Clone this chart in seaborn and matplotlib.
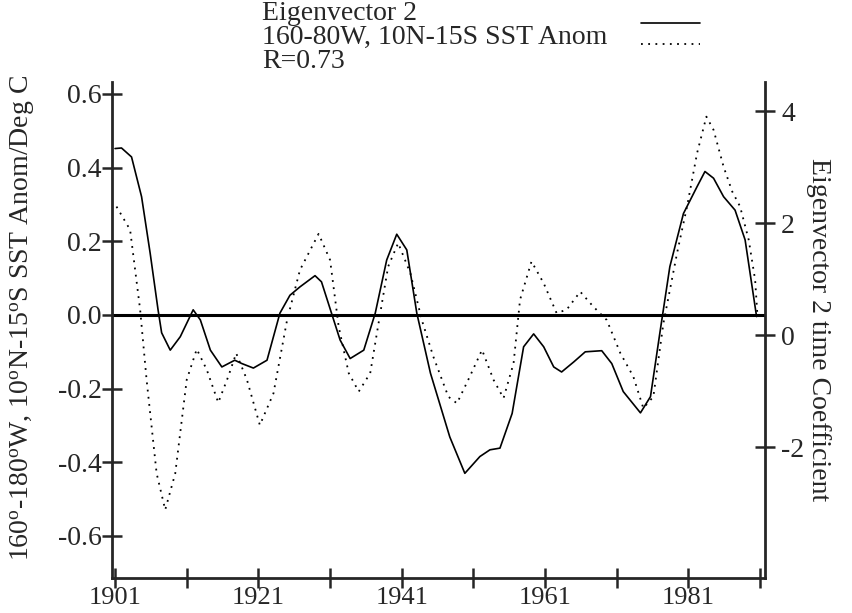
import matplotlib
matplotlib.use("Agg")
import matplotlib.pyplot as plt
from matplotlib.lines import Line2D
import seaborn as sns
import pandas as pd

# Eigenvector 2 time coefficient (right axis)
eof_years = [1901.0, 1901.9, 1903.3, 1904.7, 1905.9, 1907.0, 1907.5, 1908.7, 1910.1, 1911.9,
             1912.9, 1914.3, 1915.9, 1917.7, 1918.7, 1920.3, 1922.2, 1924.0, 1925.4, 1926.8,
             1928.9, 1929.8, 1931.2, 1932.4, 1933.8, 1935.7, 1937.3, 1938.9, 1940.3, 1941.7,
             1943.1, 1945.0, 1947.7, 1949.8, 1951.9, 1953.3, 1954.7, 1956.4, 1958.0, 1959.4,
             1960.8, 1962.2, 1963.3, 1965.0, 1966.6, 1968.9, 1970.3, 1971.9, 1974.3, 1975.7,
             1977.0, 1978.4, 1980.3, 1982.2, 1983.3, 1984.5, 1985.9, 1987.5, 1988.9, 1990.5]
eof_coef = [3.33, 3.34, 3.18, 2.47, 1.46, 0.45, 0.04, -0.27, -0.03, 0.45,
            0.27, -0.27, -0.57, -0.45, -0.51, -0.59, -0.45, 0.39, 0.71, 0.86,
            1.06, 0.95, 0.39, -0.09, -0.42, -0.27, 0.39, 1.34, 1.80, 1.52,
            0.39, -0.68, -1.82, -2.47, -2.17, -2.05, -2.02, -1.40, -0.21, 0.02,
            -0.21, -0.57, -0.66, -0.48, -0.30, -0.28, -0.51, -1.01, -1.39, -1.10,
            0.03, 1.22, 2.17, 2.65, 2.92, 2.80, 2.47, 2.23, 1.70, 0.33]

# 160-80W, 10N-15S SST anomaly (left axis, deg C)
sst_years = [1901.2, 1903.1, 1904.5, 1905.4, 1906.8, 1908.0, 1909.4, 1911.0, 1912.4, 1913.8,
             1915.4, 1916.8, 1917.9, 1919.4, 1921.2, 1923.1, 1925.0, 1926.8, 1929.4, 1931.0,
             1932.2, 1933.6, 1935.0, 1936.6, 1938.0, 1939.1, 1940.5, 1942.2, 1943.8, 1945.4,
             1947.5, 1948.7, 1950.5, 1952.2, 1953.8, 1955.2, 1956.6, 1957.5, 1959.1, 1960.8,
             1962.6, 1964.0, 1965.9, 1967.7, 1969.6, 1971.5, 1973.3, 1974.7, 1976.1, 1977.5,
             1979.4, 1980.8, 1982.2, 1983.5, 1984.5, 1985.9, 1987.1, 1988.2, 1989.4, 1990.3,
             1990.6]
sst_anom = [0.294, 0.231, 0.014, -0.176, -0.430, -0.529, -0.430, -0.176, -0.093, -0.149,
            -0.238, -0.167, -0.104, -0.176, -0.299, -0.213, -0.014, 0.122, 0.220, 0.149,
            -0.032, -0.158, -0.208, -0.158, 0.005, 0.131, 0.195, 0.113, -0.014, -0.113,
            -0.222, -0.240, -0.167, -0.095, -0.176, -0.226, -0.131, 0.041, 0.145, 0.086,
            0.005, 0.014, 0.063, 0.023, -0.014, -0.104, -0.167, -0.253, -0.222, -0.023,
            0.167, 0.294, 0.439, 0.538, 0.502, 0.402, 0.335, 0.294, 0.204, 0.095,
            0.005]

left_ticks = [-0.6, -0.4, -0.2, 0.0, 0.2, 0.4, 0.6]
right_ticks = [-2, 0, 2, 4]
year_ticks = [1901, 1911, 1921, 1931, 1941, 1951, 1961, 1971, 1981, 1991]
year_labels = ["1901", "", "1921", "", "1941", "", "1961", "", "1981", ""]
legend_labels = ["Eigenvector 2", "160-80W, 10N-15S SST Anom", "R=0.73"]

eof = pd.DataFrame({"year": eof_years, "coef": eof_coef})
sst = pd.DataFrame({"year": sst_years, "anom": sst_anom})

sns.set_theme(style="ticks")
plt.rcParams["font.family"] = ["Liberation Serif", "DejaVu Serif"]
plt.rcParams["mathtext.fontset"] = "custom"
plt.rcParams["mathtext.rm"] = "Liberation Serif"
plt.rcParams["mathtext.it"] = "Liberation Serif:italic"

fs = 20
dots = (0, (1, 3))
fig = plt.figure(figsize=(8.52, 6.13), dpi=100)
ax = fig.add_axes([0.1315, 0.0571, 0.898 - 0.1315, 0.8662 - 0.0571])
ax2 = ax.twinx()

# dotted SST series on the left axis
sns.lineplot(data=sst, x="year", y="anom", ax=ax, color="black", lw=1.3,
             linestyle=dots, legend=False)
ax.axhline(0, color="black", lw=2.2)
# solid eigenvector series on the right axis
sns.lineplot(data=eof, x="year", y="coef", ax=ax2, color="black", lw=1.2,
             legend=False, solid_joinstyle="round")

ax.set_xlim(1900.58, 1991.69)
ax.set_ylim(-0.714, 0.632)
ax2.set_ylim(-4.339, 4.518)

ax.set_yticks(left_ticks)
ax.set_yticklabels([f"{t:.1f}" for t in left_ticks])
ax2.set_yticks(right_ticks)
ax2.set_yticklabels([str(t) for t in right_ticks])
ax.set_xticks(year_ticks)
ax.set_xticklabels(year_labels)

for a in (ax, ax2):
    for s in a.spines.values():
        s.set_linewidth(2.0)
    a.spines["top"].set_visible(False)
ax.spines["right"].set_visible(False)
ax2.spines["left"].set_visible(False)
ax2.spines["bottom"].set_visible(False)

ax.tick_params(axis="y", direction="inout", length=15, width=1.8, labelsize=fs, pad=0)
ax.tick_params(axis="x", direction="inout", length=15, width=1.8, labelsize=19, pad=-1)
ax2.tick_params(axis="y", direction="inout", length=15, width=1.8, labelsize=fs, pad=4)

ax.set_xlabel("")
ax.set_ylabel(r"160$^{\mathrm{o}}$-180$^{\mathrm{o}}$W, 10$^{\mathrm{o}}$N-15$^{\mathrm{o}}$S SST Anom/Deg C",
              fontsize=fs)
ax.yaxis.set_label_coords(-0.115, 0.524)
ax2.set_ylabel("Eigenvector 2 time Coefficient", fontsize=fs, rotation=-90)
ax2.yaxis.label.set_verticalalignment("bottom")
ax2.yaxis.set_label_coords(1.062, 0.5)

# legend block at the top: text on the left, line samples on the right
text_x = 262 / 852
base_y = [1 - 20 / 613, 1 - 44 / 613, 1 - 68 / 613]
for lab, yb in zip(legend_labels, base_y):
    fig.text(text_x, yb, lab, fontsize=fs, va="baseline", ha="left")
fig.add_artist(Line2D([641 / 852, 700 / 852], [1 - 23 / 613] * 2, color="black", lw=1.2))
fig.add_artist(Line2D([641 / 852, 700 / 852], [1 - 44 / 613] * 2, color="black", lw=1.3,
                      linestyle=dots))

fig.savefig("out.png", dpi=100)
